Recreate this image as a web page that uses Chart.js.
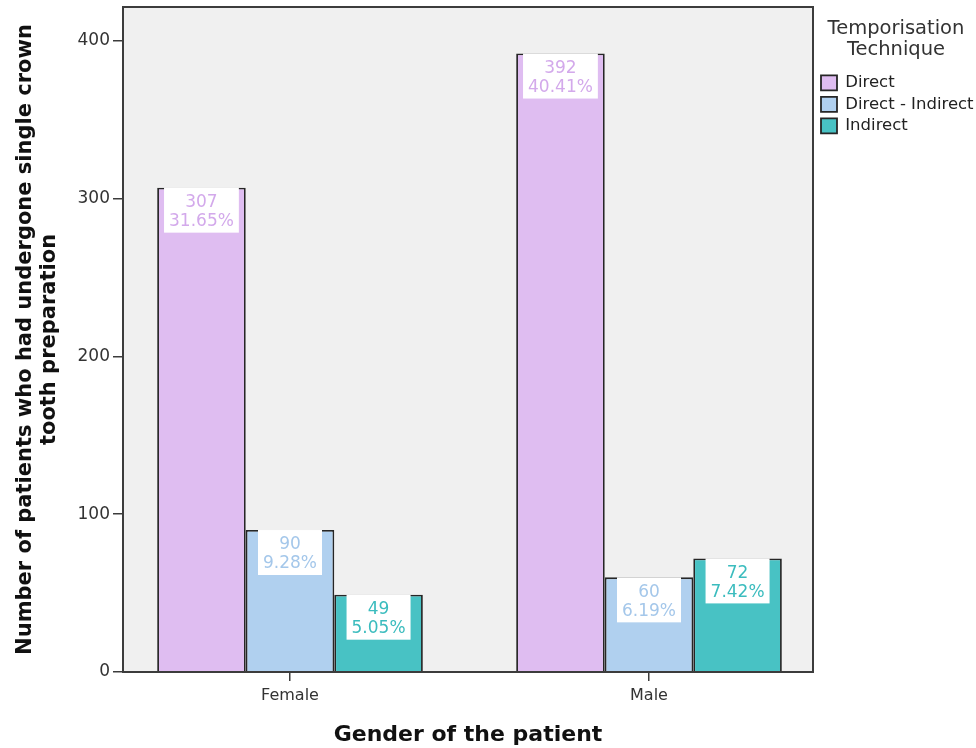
<!DOCTYPE html>
<html lang="en">
<head>
  <meta charset="UTF-8">
  <title>Temporisation Technique by Gender</title>
  <style>
    html, body {
      margin: 0;
      padding: 0;
      background-color: #fff;
    }

    .chart-box {
      width: 976px;
      height: 748px;
    }
  </style>
  <script src="https://cdn.jsdelivr.net/npm/chart.js"></script>
</head>
<body>

  <div class="chart-box">
    <canvas id="genderChart"></canvas>
  </div>

  <script>
    // Values
    const genders = ['Female', 'Male'];
    const techniques = ['Direct', 'Direct - Indirect', 'Indirect'];
    const directCounts = [307, 392];
    const directIndirectCounts = [90, 60];
    const indirectCounts = [49, 72];
    const directPercents = ['31.65%', '40.41%'];
    const directIndirectPercents = ['9.28%', '6.19%'];
    const indirectPercents = ['5.05%', '7.42%'];
    const yTicks = [0, 100, 200, 300, 400];

    const font = '"DejaVu Sans", Verdana, sans-serif';

    function points(values) {
      return values.map((v, i) => ({ x: i, y: v }));
    }

    // Grey plot background, frame and the white value boxes on the bars
    const plotFrame = {
      id: 'plotFrame',
      beforeDraw(chart) {
        const { ctx, chartArea: a } = chart;
        ctx.save();
        ctx.fillStyle = '#f0f0f0';
        ctx.fillRect(a.left, a.top, a.right - a.left, a.bottom - a.top);
        ctx.restore();
      },
      afterDatasetsDraw(chart) {
        const { ctx, chartArea: a } = chart;
        ctx.save();
        ctx.strokeStyle = '#3c3c3c';
        ctx.lineWidth = 2;
        ctx.strokeRect(a.left, a.top, a.right - a.left, a.bottom - a.top);

        ctx.font = '17px ' + font;
        ctx.textAlign = 'center';
        ctx.textBaseline = 'middle';
        chart.data.datasets.forEach((ds, i) => {
          chart.getDatasetMeta(i).data.forEach((bar, j) => {
            const lines = [String(ds.data[j].y), ds.percents[j]];
            const w = Math.max(...lines.map(t => ctx.measureText(t).width)) + 10;
            const top = bar.y;
            ctx.fillStyle = '#fff';
            ctx.fillRect(bar.x - w / 2, top, w, 45);
            ctx.fillStyle = ds.labelColor;
            ctx.fillText(lines[0], bar.x, top + 15);
            ctx.fillText(lines[1], bar.x, top + 34);
          });
        });
        ctx.restore();
      }
    };

    new Chart(document.getElementById('genderChart'), {
      type: 'bar',
      data: {
        datasets: [
          {
            label: techniques[0],
            data: points(directCounts),
            percents: directPercents,
            backgroundColor: '#dfbdf1',
            labelColor: '#d3a9eb',
            borderColor: '#262626',
            borderWidth: 1.8
          },
          {
            label: techniques[1],
            data: points(directIndirectCounts),
            percents: directIndirectPercents,
            backgroundColor: '#b0d0ef',
            labelColor: '#a4c7ea',
            borderColor: '#262626',
            borderWidth: 1.8
          },
          {
            label: techniques[2],
            data: points(indirectCounts),
            percents: indirectPercents,
            backgroundColor: '#48c2c4',
            labelColor: '#3bbcbe',
            borderColor: '#262626',
            borderWidth: 1.8
          }
        ]
      },
      options: {
        responsive: true,
        maintainAspectRatio: false,
        animation: false,
        layout: { padding: { top: 7, left: 0, right: 0, bottom: 0 } },
        datasets: {
          bar: { categoryPercentage: 0.74, barPercentage: 1, borderSkipped: 'start' }
        },
        scales: {
          x: {
            type: 'linear',
            offset: false,
            min: -0.4652,
            max: 1.4568,
            afterBuildTicks: (scale) => { scale.ticks = genders.map((g, i) => ({ value: i })); },
            afterFit: (scale) => {
              scale.height = 76;
              scale.paddingLeft = 0;
              scale.paddingRight = 0;
            },
            grid: { offset: false, drawOnChartArea: false, tickLength: 9, color: '#3c3c3c', lineWidth: 1.5 },
            border: { display: false },
            ticks: {
              padding: 5,
              color: '#333',
              font: { family: font, size: 16 },
              callback: (v) => genders[v]
            },
            title: {
              display: true,
              text: 'Gender of the patient',
              color: '#111',
              font: { family: font, size: 22, weight: 'bold' },
              padding: { top: 0, bottom: 0 }
            }
          },
          y: {
            min: 0,
            max: 421.5,
            afterBuildTicks: (scale) => { scale.ticks = yTicks.map(v => ({ value: v })); },
            afterFit: (scale) => {
              scale.width = 123;
              scale.paddingTop = 0;
              scale.paddingBottom = 0;
            },
            grid: { drawOnChartArea: false, tickLength: 10, color: '#3c3c3c', lineWidth: 1.5 },
            border: { display: false },
            ticks: {
              padding: 3,
              color: '#333',
              font: { family: font, size: 17 }
            },
            title: {
              display: true,
              text: ['Number of patients who had undergone single crown', 'tooth preparation'],
              color: '#111',
              font: { family: font, size: 21, weight: 'bold', lineHeight: 1.15 },
              padding: { top: 13, bottom: 0 }
            }
          },
          // empty spacer between the plot frame and the legend
          gap: {
            type: 'linear',
            position: 'right',
            afterFit: (scale) => {
              scale.width = 3;
              scale.paddingTop = 0;
              scale.paddingBottom = 0;
            },
            grid: { display: false },
            border: { display: false },
            ticks: { display: false }
          }
        },
        plugins: {
          legend: {
            position: 'right',
            align: 'start',
            maxWidth: 160,
            title: {
              display: true,
              text: ['Temporisation', 'Technique'],
              position: 'center',
              color: '#333',
              font: { family: font, size: 19.5, lineHeight: 1.08 },
              padding: { top: 12, bottom: 29.5 }
            },
            labels: {
              boxWidth: 16,
              boxHeight: 15,
              padding: 5,
              color: '#222',
              font: { family: font, size: 16.5 }
            }
          },
          tooltip: { enabled: false }
        }
      },
      plugins: [plotFrame]
    });
  </script>
</body>
</html>
